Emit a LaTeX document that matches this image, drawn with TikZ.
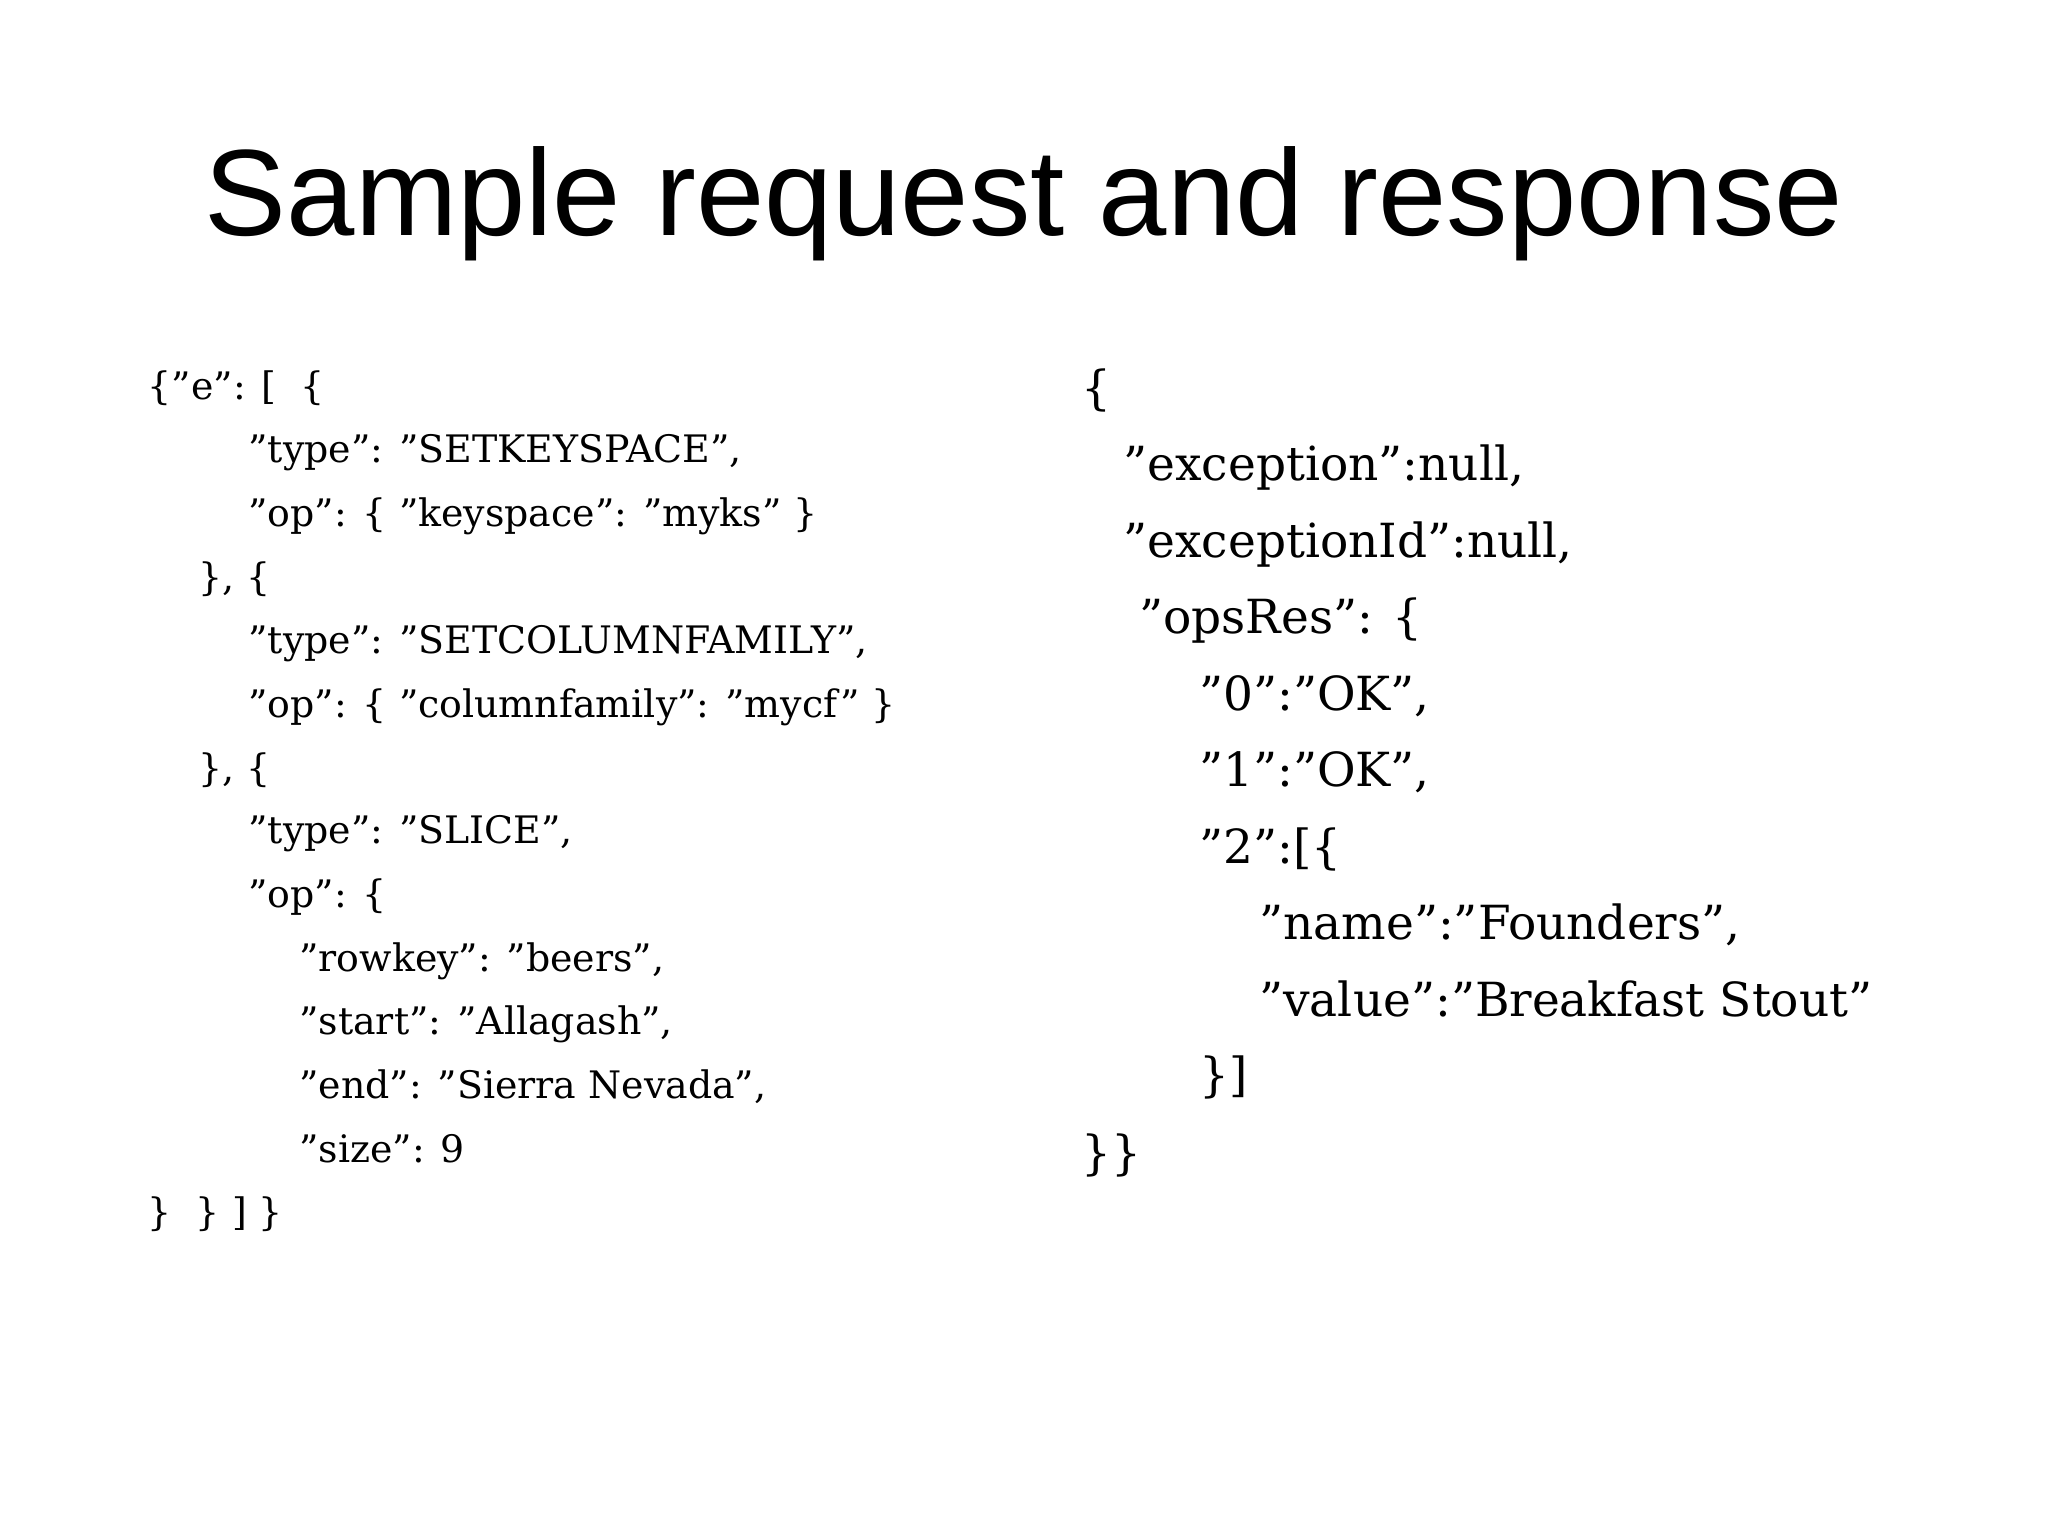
\documentclass[tikz,border=0pt]{standalone}
\usepackage{fontspec}
\setmainfont{DejaVu Serif}
\newfontfamily\titlefont{Liberation Sans}
\begin{document}
\begin{tikzpicture}[x=1pt,y=-1pt,
  lt/.style={anchor=base west,inner sep=0pt,font=\fontsize{29}{29}\selectfont},
  rt/.style={anchor=base west,inner sep=0pt,font=\fontsize{36}{36}\selectfont}]
\useasboundingbox (0,0) rectangle (1568,1176);
\node[anchor=base,inner sep=0pt,font=\titlefont\fontsize{94}{94}\selectfont] (title) at (784,180) {Sample request and response};
% left
\node[lt] (l1) at (113,306) {\{"e": [\ \ \{};
\node[lt] (l2) at (190,354) {"type": "SETKEYSPACE",};
\node[lt] (l3) at (190,403) {"op": \{ "keyspace": "myks" \}};
\node[lt] (l4) at (152,452) {\}, \{};
\node[lt] (l5) at (190,500) {"type": "SETCOLUMNFAMILY",};
\node[lt] (l6) at (190,549) {"op": \{ "columnfamily": "mycf" \}};
\node[lt] (l7) at (152,598) {\}, \{};
\node[lt] (l8) at (190,646) {"type": "SLICE",};
\node[lt] (l9) at (190,695) {"op": \{};
\node[lt] (l10) at (229,744) {"rowkey": "beers",};
\node[lt] (l11) at (229,792) {"start": "Allagash",};
\node[lt] (l12) at (229,841) {"end": "Sierra Nevada",};
\node[lt] (l13) at (229,890) {"size": 9};
\node[lt] (l14) at (113,938) {\}\ \ \} ] \}};
% right
\node[rt] (r1) at (828,310) {\{};
\node[rt] (r2) at (860,368) {"exception":null,};
\node[rt] (r3) at (860,427) {"exceptionId":null,};
\node[rt] (r4) at (872,485) {"opsRes": \{};
\node[rt] (r5) at (918,544) {"0":"OK",};
\node[rt] (r6) at (918,602) {"1":"OK",};
\node[rt] (r7) at (918,661) {"2":[\{};
\node[rt] (r8) at (964,719) {"name":"Founders",};
\node[rt] (r9) at (964,778) {"value":"Breakfast Stout"};
\node[rt] (r10) at (918,836) {\}]};
\node[rt] (r11) at (828,895) {\}\}};
\end{tikzpicture}
\end{document}
